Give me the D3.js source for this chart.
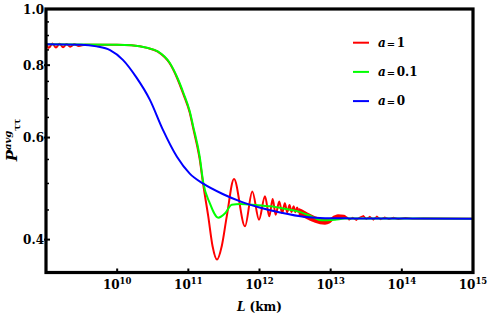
<!DOCTYPE html>
<html>
<head>
<meta charset="utf-8">
<script src="https://cdn.jsdelivr.net/npm/d3@7"></script>
<style>
  body { margin: 0; background: #fff; }
  svg { display: block; }
  text { font-family: "DejaVu Serif", serif; font-weight: bold; fill: #000; }
</style>
</head>
<body>
<div id="chart"></div>
<script>
// decade exponents for the x ticks
var xTickExps = [10, 11, 12, 13, 14, 15];
var yMajor = [0.4, 0.6, 0.8, 1.0];
var yMinor = [0.45, 0.5, 0.55, 0.65, 0.7, 0.75, 0.85, 0.9, 0.95];

// [log10 L, P]
var blueA0 = [[9.0,0.869],[9.5,0.868],[9.71,0.862],[9.9,0.849],[10.08,0.817],[10.27,0.762],[10.46,0.697],
  [10.64,0.620],[10.84,0.556],[11.02,0.520],[11.21,0.4995],[11.49,0.479],[11.73,0.4656],[12.0,0.4545],
  [12.29,0.4455],[12.64,0.4377],[12.85,0.436],[13.27,0.4352],[14.0,0.4348],[15.0,0.4347]];

var greenA01 = [[9.0,0.869],[10.0,0.868],[10.2,0.866],[10.42,0.857],[10.57,0.845],[10.74,0.807],[10.84,0.764],
  [10.93,0.717],[11.02,0.666],[11.07,0.626],[11.16,0.556],[11.21,0.5015],[11.30,0.463],[11.42,0.4365],
  [11.52,0.4447],[11.61,0.4596],[11.73,0.461],[11.95,0.459],[12.15,0.4565],[12.36,0.452],[12.54,0.4475],
  [12.73,0.4387],[12.87,0.4318],[13.06,0.433],[13.2,0.4348],[13.5,0.435],[15.0,0.4347]];

var redA1 = [[9.0,0.876],[9.04,0.857],[9.09,0.872],[9.14,0.858],[9.19,0.871],[9.24,0.859],[9.29,0.870],
  [9.34,0.861],[9.40,0.869],[9.46,0.863],[9.55,0.868],[10.0,0.868],[10.2,0.866],[10.42,0.857],[10.57,0.844],
  [10.74,0.805],[10.84,0.761],[10.93,0.713],[11.02,0.662],[11.07,0.621],[11.16,0.550],[11.21,0.497],
  [11.28,0.4387],[11.34,0.39],[11.403,0.3695],[11.47,0.39],[11.54,0.4387],[11.642,0.509],[11.796,0.4217],
  [11.899,0.4845],[11.993,0.433],[12.077,0.475],[12.138,0.4387],[12.185,0.470],[12.227,0.4417],
  [12.278,0.4656],[12.318,0.4445],[12.356,0.462],[12.389,0.446],[12.422,0.459],[12.45,0.4465],
  [12.479,0.4565],[12.504,0.446],[12.529,0.4545],[12.551,0.445]];

// dense part of the a = 1 curve: upper / lower edge of the red band
var bandExp = [12.55, 12.639, 12.709, 12.78, 12.85, 12.92, 12.99, 13.046, 13.103, 13.187, 13.243];
var bandHi  = [0.4535, 0.4483, 0.4432, 0.439, 0.4365, 0.4348, 0.4357, 0.44, 0.4426, 0.4417, 0.4374];
var bandLo  = [0.4400, 0.4355, 0.4313, 0.4279, 0.4253, 0.4245, 0.427, 0.433, 0.4348, 0.4348, 0.434];

var redTail = [[13.243,0.4355],[13.26,0.433],[13.31,0.4365],[13.36,0.4325],[13.41,0.437],[13.46,0.4395],
  [13.50,0.434],[13.55,0.438],[13.60,0.433],[13.65,0.4385],[13.70,0.4335],[13.76,0.437],[13.82,0.4338],
  [13.88,0.4365],[13.95,0.434],[14.05,0.436],[14.15,0.4345],[14.3,0.4352],[15.0,0.4347]];

var legendLabels = ["1", "0.1", "0"];
var legendColors = ["#ff0000", "#00ff00", "#0000ff"];

var W = 488, H = 317;
var pL = 46, pR = 473, pT = 9, pB = 272.5;

var svg = d3.select("#chart").append("svg").attr("width", W).attr("height", H);

var x = d3.scaleLog().domain([1e9, 1e15]).range([pL, pR]);
var y = d3.scaleLog().domain([0.351, 1.0]).range([pB, pT]);

svg.append("clipPath").attr("id", "clip").append("rect")
  .attr("x", pL).attr("y", pT).attr("width", pR - pL).attr("height", pB - pT);

var line = d3.line()
  .x(function(d) { return x(Math.pow(10, d[0])); })
  .y(function(d) { return y(d[1]); })
  .curve(d3.curveMonotoneX);

var plot = svg.append("g").attr("clip-path", "url(#clip)");

var band = d3.area()
  .x(function(d, i) { return x(Math.pow(10, bandExp[i])); })
  .y0(function(d, i) { return y(bandLo[i]); })
  .y1(function(d, i) { return y(bandHi[i]); })
  .curve(d3.curveMonotoneX);

plot.append("path").attr("d", band(bandExp)).attr("fill", "#ff0000");
plot.append("path").attr("d", line(redA1)).attr("fill", "none").attr("stroke", "#ff0000").attr("stroke-width", 2);
plot.append("path").attr("d", line.curve(d3.curveLinear)(redTail)).attr("fill", "none")
  .attr("stroke", "#ff0000").attr("stroke-width", 1.6);
line.curve(d3.curveMonotoneX);
plot.append("path").attr("d", line(greenA01)).attr("fill", "none").attr("stroke", "#00ff00").attr("stroke-width", 2);
plot.append("path").attr("d", line(blueA0)).attr("fill", "none").attr("stroke", "#0000ff").attr("stroke-width", 2);

// frame
svg.append("rect").attr("x", pL).attr("y", pT).attr("width", pR - pL).attr("height", pB - pT)
  .attr("fill", "none").attr("stroke", "#000").attr("stroke-width", 3.2);

// x ticks
var xt = svg.append("g");
xTickExps.forEach(function(e) {
  var px = x(Math.pow(10, e));
  if (e < 15) xt.append("line").attr("x1", px).attr("x2", px).attr("y1", pB).attr("y2", pB - 4)
    .attr("stroke", "#000").attr("stroke-width", 2);
  var t = xt.append("text").attr("x", px).attr("y", 289).attr("text-anchor", "middle").attr("font-size", 12);
  t.append("tspan").text("10");
  t.append("tspan").attr("font-size", 8.5).attr("dy", -5).text(e);
});

// y ticks
var yt = svg.append("g");
yMajor.forEach(function(v) {
  var py = y(v);
  if (v < 1) yt.append("line").attr("x1", pL - 2).attr("x2", pL + 4).attr("y1", py).attr("y2", py)
    .attr("stroke", "#000").attr("stroke-width", 2);
  yt.append("text").attr("x", pL - 2).attr("y", py + 4.5).attr("text-anchor", "end").attr("font-size", 12)
    .text(d3.format(".1f")(v));
});
yMinor.forEach(function(v) {
  var py = y(v);
  yt.append("line").attr("x1", pL).attr("x2", pL + 3).attr("y1", py).attr("y2", py)
    .attr("stroke", "#000").attr("stroke-width", 1.5);
});

// axis titles
var xl = svg.append("text").attr("x", (pL + pR) / 2).attr("y", 311).attr("text-anchor", "middle").attr("font-size", 12);
xl.append("tspan").attr("font-style", "italic").text("L");
xl.append("tspan").text(" (km)");

var yl = svg.append("text").attr("transform", "translate(17,140) rotate(-90)").attr("text-anchor", "middle");
yl.append("tspan").attr("font-style", "italic").attr("font-size", 15).text("P");
yl.append("tspan").attr("font-style", "italic").attr("font-size", 10).attr("dy", -6).text("avg");
yl.append("tspan").attr("font-size", 9).attr("dy", 9).text("ττ");

// legend
var lg = svg.append("g");
legendLabels.forEach(function(lab, i) {
  var ly = 42.7 + i * 29.2;
  lg.append("line").attr("x1", 353).attr("x2", 369).attr("y1", ly).attr("y2", ly)
    .attr("stroke", legendColors[i]).attr("stroke-width", 2);
  var t = lg.append("text").attr("x", 378).attr("y", ly + 4.2).attr("font-size", 12);
  t.append("tspan").attr("font-style", "italic").text("a");
  t.append("tspan").attr("dx", 1).attr("font-size", 10).text("=");
  t.append("tspan").attr("dx", 1.5).text(lab);
});
</script>
</body>
</html>
